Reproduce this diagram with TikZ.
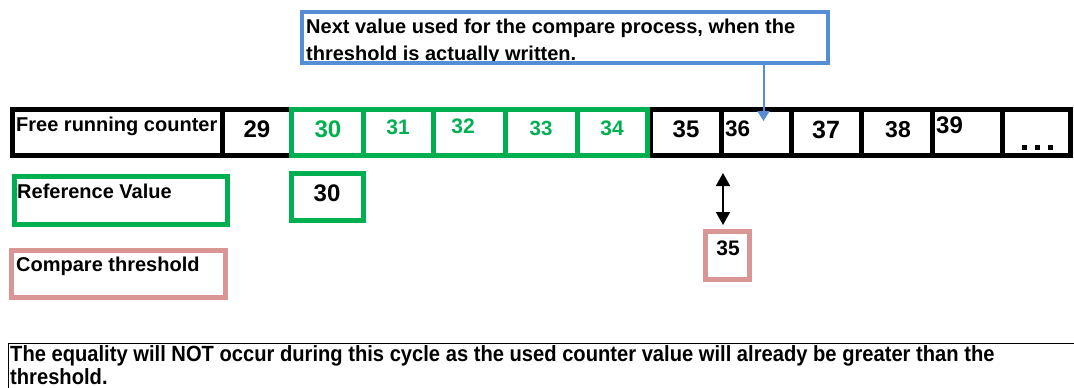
\documentclass[tikz,border=0pt]{standalone}
\usepackage{fontspec}
\setmainfont{Liberation Sans}
\newfontfamily\narrowfont[FakeStretch=0.916]{Liberation Sans}
\usetikzlibrary{arrows.meta}
\definecolor{ogreen}{HTML}{00B050}
\definecolor{opink}{HTML}{D99694}
\definecolor{oblue}{HTML}{558ED5}
\begin{document}
\begin{tikzpicture}[x=1pt,y=-1pt,
  cell/.style={draw=black,line width=5pt,inner sep=0pt,outer sep=0pt},
  gcell/.style={cell,draw=ogreen},
  pcell/.style={cell,draw=opink},
  lbl/.style={font=\bfseries\fontsize{20}{24}\selectfont,inner sep=0pt,anchor=base west},
  num/.style={font=\bfseries\fontsize{#1}{#1}\selectfont,inner sep=0pt,anchor=base},
  gnum/.style={num=#1,text=ogreen},
  note/.style={draw=oblue,line width=4pt,inner sep=0pt,outer sep=0pt},
  stmt/.style={font=\narrowfont\bfseries\fontsize{22}{26}\selectfont,inner sep=0pt,anchor=base west}]
\useasboundingbox (0,0) rectangle (1074,388);
% counter row
\node[cell,minimum width=209.5pt,minimum height=46pt,anchor=north west] (free) at (12.5,109) {};
\node[cell,minimum width=69pt,minimum height=46pt,anchor=north west] (c29) at (222,109) {};
\node[cell,minimum width=71pt,minimum height=46pt,anchor=north west] (c35) at (650,109) {};
\node[cell,minimum width=70pt,minimum height=46pt,anchor=north west] (c36) at (721,109) {};
\node[cell,minimum width=70pt,minimum height=46pt,anchor=north west] (c37) at (791,109) {};
\node[cell,minimum width=71pt,minimum height=46pt,anchor=north west] (c38) at (861,109) {};
\node[cell,minimum width=70pt,minimum height=46pt,anchor=north west] (c39) at (932,109) {};
\node[cell,minimum width=68.5pt,minimum height=46pt,anchor=north west] (cdots) at (1002,109) {};
\node[gcell,minimum width=72pt,minimum height=46pt,anchor=north west] (c30) at (291,109) {};
\node[gcell,minimum width=70pt,minimum height=46pt,anchor=north west] (c31) at (363,109) {};
\node[gcell,minimum width=72pt,minimum height=46pt,anchor=north west] (c32) at (433,109) {};
\node[gcell,minimum width=72pt,minimum height=46pt,anchor=north west] (c33) at (505,109) {};
\node[gcell,minimum width=70pt,minimum height=46pt,anchor=north west] (c34) at (577,109) {};
% texts of counter row
\node[lbl] (tfree) at (16,131) {Free running counter};
\node[num=24] (t29) at (257,137) {29};
\node[gnum=24] (t30) at (328,137) {30};
\node[gnum=21] (t31) at (398,134) {31};
\node[gnum=21] (t32) at (463,133) {32};
\node[gnum=20.5] (t33) at (541,135) {33};
\node[gnum=21] (t34) at (612,135) {34};
\node[num=24] (t35) at (686,137) {35};
\node[num=22.5,anchor=base west] (t36) at (725,136) {36};
\node[num=25] (t37) at (826,138) {37};
\node[num=23] (t38) at (898,137) {38};
\node[num=24,anchor=base west] (t39) at (936,133) {39};
\node[num=24] (tdots) at (1037,150) {\rule{5pt}{5pt}\hspace{8pt}\rule{5pt}{5pt}\hspace{8pt}\rule{5pt}{5pt}};
% reference value
\node[gcell,minimum width=213pt,minimum height=48pt,anchor=north west] (refbox) at (14.5,176.5) {};
\node[lbl] (tref) at (17,198) {Reference Value};
\node[gcell,minimum width=72pt,minimum height=47pt,anchor=north west] (refval) at (291.5,173.5) {};
\node[num=24] (trefval) at (327,201) {30};
% compare threshold
\node[pcell,minimum width=214pt,minimum height=47pt,anchor=north west] (thrbox) at (11.5,250.5) {};
\node[lbl] (tthr) at (16,271) {Compare threshold};
\node[pcell,minimum width=44pt,minimum height=48pt,anchor=north west] (thrval) at (705.5,231.5) {};
\node[num=21] (tthrval) at (728,255) {35};
\coordinate (dtop) at (723,173);
\coordinate (dbot) at (723,225);
\draw[line width=1.6pt,{Triangle[width=14pt,length=13pt]}-{Triangle[width=14pt,length=13pt]}] (dtop) -- (dbot);
% callout
\node[lbl] (tnote1) at (306,33) {Next value used for the compare process, when the};
\node[lbl] (tnote2) at (306,60) {threshold is actually written.};
\node[note,minimum width=526pt,minimum height=51pt,anchor=north west] (notebox) at (302,12) {};
\coordinate (tip) at (763.5,121);
\draw[oblue,line width=2pt,-{Triangle[width=12pt,length=10pt]}] (notebox.south -| tip) -- (tip);
% bottom statement
\coordinate (bl) at (8,343);
\draw[line width=1pt] (1074,343) -- (bl) -- (8,388);
\node[stmt] (tbot1) at (10,361) {The equality will NOT occur during this cycle as the used counter value will already be greater than the};
\node[stmt] (tbot2) at (10,384) {threshold.};
\end{tikzpicture}
\end{document}
